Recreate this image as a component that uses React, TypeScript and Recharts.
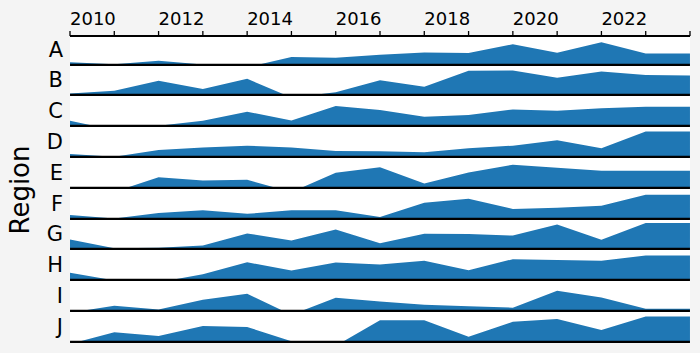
import React from "react";
import { AreaChart, Area, XAxis, YAxis, CartesianGrid, ReferenceLine } from "recharts";

const years = [2010, 2011, 2012, 2013, 2014, 2015, 2016, 2017, 2018, 2019, 2020, 2021, 2022, 2023, 2024];
const yearLabels = [2010, 2012, 2014, 2016, 2018, 2020, 2022];
const regions = ["A", "B", "C", "D", "E", "F", "G", "H", "I", "J"];

// one value per year, as a share of the row height (values below 0 are cut at the baseline)
const seriesA = [0.08, 0.02, 0.13, 0.01, -0.08, 0.25, 0.23, 0.33, 0.4, 0.38, 0.67, 0.39, 0.73, 0.37, 0.37];
const seriesB = [0.04, 0.13, 0.46, 0.19, 0.52, -0.09, 0.08, 0.47, 0.26, 0.78, 0.79, 0.55, 0.76, 0.64, 0.63];
const seriesC = [0.16, -0.14, 0.0, 0.16, 0.46, 0.17, 0.64, 0.51, 0.29, 0.35, 0.53, 0.49, 0.57, 0.62, 0.62];
const seriesD = [0.09, 0.0, 0.22, 0.3, 0.36, 0.3, 0.19, 0.18, 0.15, 0.28, 0.36, 0.54, 0.28, 0.82, 0.82];
const seriesE = [-0.05, -0.13, 0.34, 0.24, 0.26, -0.14, 0.49, 0.67, 0.14, 0.5, 0.75, 0.65, 0.55, 0.55, 0.55];
const seriesF = [0.12, 0.01, 0.19, 0.28, 0.16, 0.28, 0.28, 0.06, 0.52, 0.65, 0.32, 0.36, 0.42, 0.78, 0.78];
const seriesG = [0.3, 0.02, 0.03, 0.11, 0.5, 0.27, 0.63, 0.18, 0.49, 0.48, 0.43, 0.79, 0.29, 0.84, 0.84];
const seriesH = [0.23, -0.02, -0.08, 0.18, 0.57, 0.3, 0.56, 0.5, 0.62, 0.31, 0.67, 0.64, 0.62, 0.79, 0.79];
const seriesI = [-0.06, 0.16, 0.04, 0.36, 0.55, -0.13, 0.42, 0.3, 0.2, 0.15, 0.1, 0.65, 0.43, 0.07, 0.07];
const seriesJ = [-0.07, 0.31, 0.19, 0.51, 0.48, 0.02, -0.13, 0.7, 0.7, 0.16, 0.65, 0.74, 0.38, 0.82, 0.82];

const regionValues = [seriesA, seriesB, seriesC, seriesD, seriesE, seriesF, seriesG, seriesH, seriesI, seriesJ];

const FONT = "DejaVu Sans, sans-serif";
const ROW_H = 30.8;
const FIRST_BASE = 64.3;

const YearTick = (props: any) => {
  const { x, y, payload } = props;
  if (!yearLabels.includes(payload.value)) return <g />;
  return (
    <text x={x} y={y} textAnchor="start" fontSize={18} fill="#000" fontFamily={FONT}>
      {payload.value}
    </text>
  );
};

const RegionRow = ({ name, values, index }: { name: string; values: number[]; index: number }) => {
  const data = years.map((year, i) => ({ year, v: values[i] }));
  const top = FIRST_BASE + index * ROW_H - ROW_H;
  return (
    <div style={{ position: "absolute", left: 0, top, zIndex: 20 - index }}>
      <AreaChart width={700} height={ROW_H + 3} data={data} margin={{ top: 0, right: 10, bottom: 3, left: 0 }}>
        <CartesianGrid fill="#ffffff" horizontal={false} vertical={false} stroke="none" />
        <XAxis dataKey="year" type="number" domain={[2010, 2024]} hide />
        <YAxis
          type="number"
          domain={[0, 1]}
          allowDataOverflow
          ticks={[0.5]}
          tickFormatter={() => name}
          width={70}
          axisLine={false}
          tickLine={false}
          tickSize={0}
          tickMargin={7}
          tick={{ fontSize: 21, fill: "#000", fontFamily: FONT }}
        />
        <Area
          type="linear"
          dataKey="v"
          fill="#1f77b4"
          fillOpacity={1}
          stroke="none"
          isAnimationActive={false}
        />
        <ReferenceLine y={0} stroke="#000" strokeWidth={2.2} />
      </AreaChart>
    </div>
  );
};

export default function App() {
  const axisData = years.map((year) => ({ year }));
  return (
    <div
      style={{
        position: "absolute",
        left: 0,
        top: 0,
        width: 700,
        height: 353,
        background: "#f4f4f4",
        fontFamily: FONT,
        overflow: "hidden",
      }}
    >
      <div
        style={{
          position: "absolute",
          left: 0,
          top: 0,
          zIndex: 40,
          background: "linear-gradient(to bottom, #f4f4f4 35px, transparent 35px)",
        }}
      >
        <AreaChart width={700} height={40} data={axisData} margin={{ top: 0, right: 10, bottom: 0, left: 70 }}>
          <XAxis
            dataKey="year"
            type="number"
            orientation="top"
            domain={[2010, 2024]}
            ticks={years}
            height={36}
            tickSize={5}
            tickMargin={6}
            interval={0}
            axisLine={{ stroke: "#000", strokeWidth: 1.8 }}
            tickLine={{ stroke: "#000", strokeWidth: 1.3 }}
            tick={<YearTick />}
          />
        </AreaChart>
      </div>
      {regions.map((name, i) => (
        <RegionRow key={name} name={name} values={regionValues[i]} index={i} />
      ))}
      <svg width={50} height={353} style={{ position: "absolute", left: 0, top: 0, zIndex: 50 }}>
        <text
          x={29}
          y={190}
          transform="rotate(-90, 29, 190)"
          textAnchor="middle"
          fontSize={26}
          fill="#000"
          fontFamily={FONT}
        >
          Region
        </text>
      </svg>
    </div>
  );
}
